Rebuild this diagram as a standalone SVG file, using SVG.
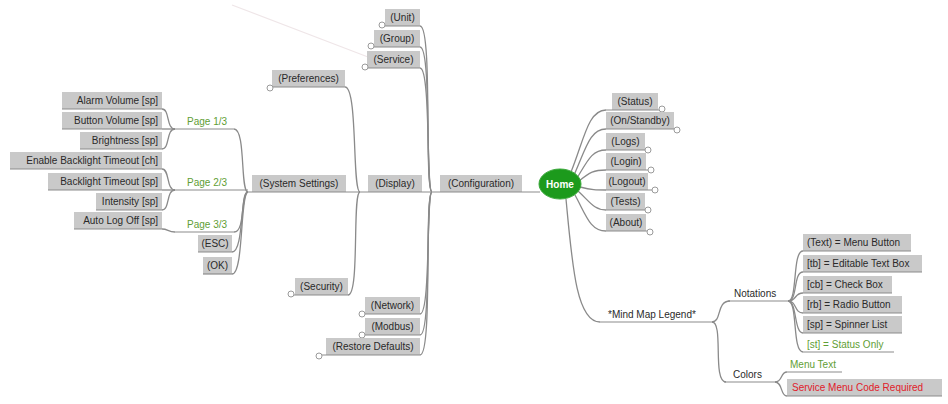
<svg xmlns="http://www.w3.org/2000/svg" width="948" height="404" viewBox="0 0 948 404">
<style>
.bx{fill:#c9c9c9}
.ul{stroke:#8c8c8c;stroke-width:1.2;fill:none}
.c{stroke:#8a8a8a;stroke-width:1.3;fill:none}
.t{font-family:"Liberation Sans",Arial,sans-serif;font-size:10px;fill:#2a2a2a}
.e{text-anchor:end}
.m{text-anchor:middle}
.g{fill:#5f9e35}
.r{fill:#e0202a}
.k{fill:#fff;stroke:#9a9a9a;stroke-width:1}
</style>
<rect width="948" height="404" fill="#fff"/>
<g id="connectors">
<path d="M232,5 L368,57" stroke="#efe6e8" stroke-width="1.2" fill="none"/>
<!-- Page 1/3 -->
<path class="c" d="M175,129 C166,129 170,109 162,109"/>
<path class="c" d="M175,129 L162,129"/>
<path class="c" d="M175,129 C166,129 170,149 162,149"/>
<!-- Page 2/3 -->
<path class="c" d="M175,190 C166,190 170,169 162,169"/>
<path class="c" d="M175,190 L162,190"/>
<path class="c" d="M175,190 C166,190 170,210 162,210"/>
<!-- Page 3/3 -->
<path class="c" d="M175,232 C168,232 168,229 162,229"/>
<!-- System Settings fork -->
<path class="c" d="M248,192 C240,192 246,129 234,129"/>
<path class="c" d="M248,192 C240,192 246,232 234,232"/>
<path class="c" d="M248,192 C240,192 244,252 232,252"/>
<path class="c" d="M248,192 C240,192 244,274 232,274"/>
<!-- Display fork -->
<path class="c" d="M360,192 C352,192 358,87 345,87"/>
<path class="c" d="M360,192 C352,192 360,295 348,295"/>
<!-- Configuration fork -->
<path class="c" d="M432,192 C424,192 433,26 420,26"/>
<path class="c" d="M432,192 C425,192 432,47 420,47"/>
<path class="c" d="M432,192 C426,192 431,68 420,68"/>
<path class="c" d="M432,192 C426,192 431,314 420,314"/>
<path class="c" d="M432,192 C425,192 432,335 420,335"/>
<path class="c" d="M432,192 C424,192 433,355 420,355"/>
<!-- Home children -->
<path class="c" d="M571,172 C584,140 588,110 606,110"/>
<path class="c" d="M574,175 C586,148 590,129 606,129"/>
<path class="c" d="M577,178 C588,160 592,150 606,150"/>
<path class="c" d="M579,181 C590,172 594,170 606,170"/>
<path class="c" d="M580,187 C592,190 596,190 606,190"/>
<path class="c" d="M578,191 C590,202 594,210 606,210"/>
<path class="c" d="M575,195 C586,215 590,231 606,231"/>
<path class="c" d="M566,199 C572,262 576,322 600,322"/>
<!-- Legend -->
<path class="c" d="M712,322 C722,322 716,301 730,301"/>
<path class="c" d="M712,322 C724,322 712,382 726,382"/>
<path class="c" d="M788,301 C798,301 792,251 803,251"/>
<path class="c" d="M788,301 C798,301 793,272 803,272"/>
<path class="c" d="M788,301 C797,301 794,293 803,293"/>
<path class="c" d="M788,301 C797,301 794,313 803,313"/>
<path class="c" d="M788,301 C797,301 794,333 803,333"/>
<path class="c" d="M788,301 C798,301 792,352 803,352"/>
<path class="c" d="M775,382 C783,382 780,372 787,372"/>
<path class="c" d="M775,382 C783,382 780,396 787,396"/>
</g>
<g id="alarm-volume"><rect class="bx" x="62" y="92" width="100" height="17"/><line class="ul" x1="62" y1="109" x2="162" y2="109"/><text class="t e" x="158" y="104">Alarm Volume [sp]</text></g>
<g id="button-volume"><rect class="bx" x="62" y="112" width="100" height="17"/><line class="ul" x1="62" y1="129" x2="162" y2="129"/><text class="t e" x="158" y="124">Button Volume [sp]</text></g>
<g id="brightness"><rect class="bx" x="80" y="132" width="82" height="17"/><line class="ul" x1="80" y1="149" x2="162" y2="149"/><text class="t e" x="158" y="144">Brightness [sp]</text></g>
<g id="enable-backlight"><rect class="bx" x="10" y="152" width="152" height="17"/><line class="ul" x1="10" y1="169" x2="162" y2="169"/><text class="t e" x="158" y="164">Enable Backlight Timeout [ch]</text></g>
<g id="backlight-timeout"><rect class="bx" x="48" y="173" width="114" height="17"/><line class="ul" x1="48" y1="190" x2="162" y2="190"/><text class="t e" x="158" y="185">Backlight Timeout [sp]</text></g>
<g id="intensity"><rect class="bx" x="96" y="193" width="66" height="17"/><line class="ul" x1="96" y1="210" x2="162" y2="210"/><text class="t e" x="158" y="205">Intensity [sp]</text></g>
<g id="auto-log-off"><rect class="bx" x="74" y="212" width="88" height="17"/><line class="ul" x1="74" y1="229" x2="162" y2="229"/><text class="t e" x="158" y="224">Auto Log Off [sp]</text></g>
<g id="page1"><line class="ul" x1="175" y1="129" x2="234" y2="129"/><text class="t g" x="187" y="125">Page 1/3</text></g>
<g id="page2"><line class="ul" x1="175" y1="190" x2="248" y2="190"/><text class="t g" x="187" y="186">Page 2/3</text></g>
<g id="page3"><line class="ul" x1="175" y1="232" x2="234" y2="232"/><text class="t g" x="187" y="228">Page 3/3</text></g>
<g id="esc"><rect class="bx" x="198" y="235" width="34" height="17"/><line class="ul" x1="198" y1="252" x2="232" y2="252"/><text class="t m" x="215" y="247">(ESC)</text></g>
<g id="ok"><rect class="bx" x="203" y="257" width="29" height="17"/><line class="ul" x1="203" y1="274" x2="232" y2="274"/><text class="t m" x="217.5" y="269">(OK)</text></g>
<g id="system-settings"><rect class="bx" x="252" y="175" width="94" height="17"/><line class="ul" x1="248" y1="192" x2="360" y2="192"/><text class="t m" x="299" y="187">(System Settings)</text></g>
<g id="preferences"><rect class="bx" x="272" y="70" width="73" height="17"/><line class="ul" x1="272" y1="87" x2="345" y2="87"/><circle class="k" cx="270" cy="88" r="3"/><text class="t m" x="308.5" y="82">(Preferences)</text></g>
<g id="security"><rect class="bx" x="295" y="278" width="53" height="17"/><line class="ul" x1="294" y1="295" x2="348" y2="295"/><circle class="k" cx="291" cy="294" r="3"/><text class="t m" x="321.5" y="290">(Security)</text></g>
<g id="display"><rect class="bx" x="368" y="175" width="54" height="17"/><line class="ul" x1="360" y1="192" x2="432" y2="192"/><text class="t m" x="395" y="187">(Display)</text></g>
<g id="unit"><rect class="bx" x="385" y="9" width="35" height="17"/><line class="ul" x1="385" y1="26" x2="420" y2="26"/><circle class="k" cx="382" cy="25" r="3"/><text class="t m" x="402.5" y="21">(Unit)</text></g>
<g id="group"><rect class="bx" x="374" y="30" width="46" height="17"/><line class="ul" x1="374" y1="47" x2="420" y2="47"/><circle class="k" cx="371" cy="46" r="3"/><text class="t m" x="397" y="42">(Group)</text></g>
<g id="service"><rect class="bx" x="367" y="51" width="53" height="17"/><line class="ul" x1="367" y1="68" x2="420" y2="68"/><circle class="k" cx="365" cy="67" r="3"/><text class="t m" x="393.5" y="63">(Service)</text></g>
<g id="network"><rect class="bx" x="365" y="297" width="55" height="17"/><line class="ul" x1="365" y1="314" x2="420" y2="314"/><circle class="k" cx="362" cy="314" r="3"/><text class="t m" x="392.5" y="309">(Network)</text></g>
<g id="modbus"><rect class="bx" x="365" y="318" width="55" height="17"/><line class="ul" x1="365" y1="335" x2="420" y2="335"/><circle class="k" cx="362" cy="335" r="3"/><text class="t m" x="392.5" y="330">(Modbus)</text></g>
<g id="restore-defaults"><rect class="bx" x="326" y="338" width="94" height="17"/><line class="ul" x1="322" y1="355" x2="420" y2="355"/><circle class="k" cx="319" cy="356" r="3"/><text class="t m" x="373" y="350">(Restore Defaults)</text></g>
<g id="configuration"><rect class="bx" x="440" y="175" width="82" height="17"/><line class="ul" x1="432" y1="192" x2="540" y2="192"/><text class="t m" x="481" y="187">(Configuration)</text></g>
<g id="home"><ellipse cx="560" cy="184" rx="21" ry="15" fill="#1c9a1c" stroke="#3aa83a" stroke-width="1"/><text class="t m" x="560" y="188" style="fill:#fff;font-weight:bold">Home</text></g>
<g id="status"><rect class="bx" x="612" y="93" width="46" height="17"/><line class="ul" x1="606" y1="110" x2="660" y2="110"/><circle class="k" cx="662" cy="109" r="3"/><text class="t m" x="635" y="105">(Status)</text></g>
<g id="on-standby"><rect class="bx" x="606" y="112" width="68" height="17"/><line class="ul" x1="606" y1="129" x2="675" y2="129"/><circle class="k" cx="677" cy="130" r="3"/><text class="t m" x="640" y="124">(On/Standby)</text></g>
<g id="logs"><rect class="bx" x="606" y="133" width="39" height="17"/><line class="ul" x1="606" y1="150" x2="646" y2="150"/><circle class="k" cx="648" cy="150" r="3"/><text class="t m" x="625.5" y="145">(Logs)</text></g>
<g id="login"><rect class="bx" x="606" y="153" width="40" height="17"/><line class="ul" x1="606" y1="170" x2="649" y2="170"/><circle class="k" cx="651" cy="170" r="3"/><text class="t m" x="626" y="165">(Login)</text></g>
<g id="logout"><rect class="bx" x="606" y="173" width="42" height="17"/><line class="ul" x1="606" y1="190" x2="653" y2="190"/><circle class="k" cx="655" cy="190" r="3"/><text class="t m" x="627" y="185">(Logout)</text></g>
<g id="tests"><rect class="bx" x="606" y="193" width="39" height="17"/><line class="ul" x1="606" y1="210" x2="646" y2="210"/><circle class="k" cx="648" cy="210" r="3"/><text class="t m" x="625.5" y="205">(Tests)</text></g>
<g id="about"><rect class="bx" x="606" y="214" width="40" height="17"/><line class="ul" x1="606" y1="231" x2="648" y2="231"/><circle class="k" cx="650" cy="232" r="3"/><text class="t m" x="626" y="226">(About)</text></g>
<g id="legend"><line class="ul" x1="600" y1="322" x2="712" y2="322"/><text class="t" x="608" y="318">*Mind Map Legend*</text></g>
<g id="notations"><line class="ul" x1="728" y1="301" x2="788" y2="301"/><text class="t" x="734" y="297">Notations</text></g>
<g id="colors"><line class="ul" x1="724" y1="382" x2="775" y2="382"/><text class="t" x="733" y="378">Colors</text></g>
<g id="n-text"><rect class="bx" x="803" y="234" width="108" height="17"/><line class="ul" x1="803" y1="251" x2="911" y2="251"/><text class="t" x="807" y="246">(Text) = Menu Button</text></g>
<g id="n-tb"><rect class="bx" x="803" y="255" width="119" height="17"/><line class="ul" x1="803" y1="272" x2="922" y2="272"/><text class="t" x="807" y="267">[tb] = Editable Text Box</text></g>
<g id="n-cb"><rect class="bx" x="803" y="276" width="89" height="17"/><line class="ul" x1="803" y1="293" x2="892" y2="293"/><text class="t" x="807" y="288">[cb] = Check Box</text></g>
<g id="n-rb"><rect class="bx" x="803" y="296" width="99" height="17"/><line class="ul" x1="803" y1="313" x2="902" y2="313"/><text class="t" x="807" y="308">[rb] = Radio Button</text></g>
<g id="n-sp"><rect class="bx" x="803" y="316" width="99" height="17"/><line class="ul" x1="803" y1="333" x2="902" y2="333"/><text class="t" x="807" y="328">[sp] = Spinner List</text></g>
<g id="n-st"><line class="ul" x1="803" y1="352" x2="894" y2="352"/><text class="t g" x="807" y="348">[st] = Status Only</text></g>
<g id="c-menu"><line class="ul" x1="787" y1="372" x2="842" y2="372"/><text class="t g" x="790" y="368">Menu Text</text></g>
<g id="c-service"><rect class="bx" x="787" y="379" width="155" height="17"/><line class="ul" x1="787" y1="396" x2="942" y2="396"/><text class="t r" x="792" y="391">Service Menu Code Required</text></g>
</svg>
